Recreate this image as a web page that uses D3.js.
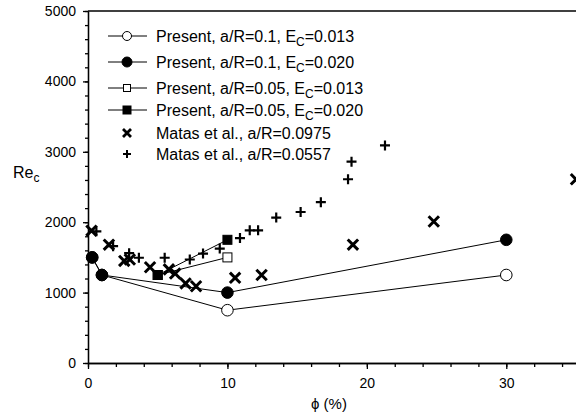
<!DOCTYPE html>
<html>
<head>
<meta charset="utf-8">
<script src="https://cdn.jsdelivr.net/npm/d3@7"></script>
<style>
  body { margin: 0; background: #fff; }
  svg { display: block; font-family: "Liberation Sans", Arial, sans-serif; }
</style>
</head>
<body>
<div id="chart"></div>
<script>
// data: [phi (%), Re_c]
const presentOpenCircle = [[0.3, 1500], [1, 1250], [10, 750], [30, 1250]];   // a/R=0.1, Ec=0.013
const presentFilledCircle = [[0.3, 1500], [1, 1250], [10, 1000], [30, 1750]]; // a/R=0.1, Ec=0.020
const presentOpenSquare = [[5, 1250], [10, 1500]];                            // a/R=0.05, Ec=0.013
const presentFilledSquare = [[5, 1250], [10, 1750]];                          // a/R=0.05, Ec=0.020
const matasCross = [[0.25, 1880], [1.5, 1680], [2.6, 1450], [3.0, 1470], [4.45, 1360],
  [5.8, 1330], [6.25, 1270], [7.0, 1130], [7.75, 1090], [10.55, 1210], [12.45, 1250],
  [19.0, 1680], [24.8, 2010], [35.0, 2610]];
const matasPlus = [[0.6, 1870], [1.8, 1660], [2.95, 1560], [3.65, 1495], [5.5, 1495],
  [7.3, 1470], [8.25, 1555], [9.45, 1625], [10.9, 1775], [11.6, 1885],
  [12.2, 1885], [13.5, 2065], [15.25, 2145], [16.7, 2285], [18.65, 2610], [18.9, 2860],
  [21.3, 3090]];
const yTicks = [0, 1000, 2000, 3000, 4000, 5000];
const xTicks = [0, 10, 20, 30];

const width = 576, height = 416;
const x = d3.scaleLinear([0, 35], [88, 576]);
const y = d3.scaleLinear([0, 5000], [363, 11]);

const svg = d3.select("#chart").append("svg")
    .attr("width", width)
    .attr("height", height)
    .attr("viewBox", [0, 0, width, height]);

// axes
const yAxis = svg.append("g").attr("transform", `translate(${x(0)},0)`);
yAxis.call(d3.axisLeft(y).tickValues(d3.range(0, 5001, 200)).tickSize(3).tickFormat("").tickSizeOuter(0));
yAxis.call(g => g.append("g").call(d3.axisLeft(y).tickValues(yTicks).tickSize(5)
    .tickFormat(d3.format("d")).tickSizeOuter(0).tickPadding(7)));

const xAxis = svg.append("g").attr("transform", `translate(0,${y(0)})`);
xAxis.call(d3.axisBottom(x).tickValues(d3.range(0, 35.1, 2)).tickSize(4).tickFormat("").tickSizeOuter(0));
xAxis.call(g => g.append("g").call(d3.axisBottom(x).tickValues(xTicks).tickSize(6)
    .tickFormat(d3.format("d")).tickSizeOuter(0).tickPadding(9)));

svg.selectAll(".tick text").attr("font-size", 14).attr("fill", "#000").attr("font-family", "Liberation Sans, Arial, sans-serif");
svg.selectAll(".domain, .tick line").attr("stroke", "#000").attr("stroke-width", 1.3);

svg.append("line")
    .attr("x1", x(0)).attr("x2", x(35))
    .attr("y1", y(5000)).attr("y2", y(5000))
    .attr("stroke", "#000").attr("stroke-width", 1.3);

// axis titles
const rel = svg.append("text").attr("x", 13).attr("y", 178).attr("font-size", 16);
rel.append("tspan").text("Re");
rel.append("tspan").attr("dy", 4).attr("font-size", 12).text("c");

svg.append("text")
    .attr("x", 329).attr("y", 409)
    .attr("text-anchor", "middle")
    .attr("font-size", 15)
    .text("ϕ (%)");

// marker drawing helpers
function drawMarker(g, type, cx, cy) {
  if (type === "openCircle" || type === "filledCircle") {
    g.append("circle").attr("cx", cx).attr("cy", cy).attr("r", 5.8)
      .attr("fill", type === "openCircle" ? "#fff" : "#000")
      .attr("stroke", "#000").attr("stroke-width", 1);
  } else if (type === "openSquare" || type === "filledSquare") {
    g.append("rect").attr("x", cx - 4.5).attr("y", cy - 4.5).attr("width", 9).attr("height", 9)
      .attr("fill", type === "openSquare" ? "#fff" : "#000")
      .attr("stroke", "#000").attr("stroke-width", 1);
  } else if (type === "cross") {
    const s = 5.2;
    g.append("path").attr("d", `M${cx - s},${cy - s}L${cx + s},${cy + s}M${cx - s},${cy + s}L${cx + s},${cy - s}`)
      .attr("stroke", "#000").attr("stroke-width", 3).attr("fill", "none");
  } else if (type === "plus") {
    const s = 5;
    g.append("path").attr("d", `M${cx - s},${cy}L${cx + s},${cy}M${cx},${cy - s}L${cx},${cy + s}`)
      .attr("stroke", "#000").attr("stroke-width", 2.2).attr("fill", "none");
  }
}

const line = d3.line().x(d => x(d[0])).y(d => y(d[1]));

const lineSeries = [
  {data: presentOpenCircle, type: "openCircle"},
  {data: presentOpenSquare, type: "openSquare"},
  {data: presentFilledCircle, type: "filledCircle"},
  {data: presentFilledSquare, type: "filledSquare"}
];

const plot = svg.append("g");
lineSeries.forEach(s => {
  plot.append("path").attr("d", line(s.data)).attr("fill", "none").attr("stroke", "#000").attr("stroke-width", 1);
});
lineSeries.forEach(s => {
  s.data.forEach(d => drawMarker(plot, s.type, x(d[0]), y(d[1])));
});
matasCross.forEach(d => drawMarker(plot, "cross", x(d[0]), y(d[1])));
matasPlus.forEach(d => drawMarker(plot, "plus", x(d[0]), y(d[1])));

// legend
const legendItems = [
  {type: "openCircle", line: true, label: ["Present, a/R=0.1, E", "C", "=0.013"]},
  {type: "filledCircle", line: true, label: ["Present, a/R=0.1, E", "C", "=0.020"]},
  {type: "openSquare", line: true, label: ["Present, a/R=0.05, E", "C", "=0.013"]},
  {type: "filledSquare", line: true, label: ["Present, a/R=0.05, E", "C", "=0.020"]},
  {type: "cross", line: false, label: ["Matas et al., a/R=0.0975"]},
  {type: "plus", line: false, label: ["Matas et al., a/R=0.0557"]}
];
const legendY = [36, 62, 88, 110, 133, 154];
const legend = svg.append("g");
legendItems.forEach((it, i) => {
  const ly = legendY[i];
  if (it.line) {
    legend.append("line").attr("x1", 108).attr("x2", 147).attr("y1", ly).attr("y2", ly)
      .attr("stroke", "#000").attr("stroke-width", 1);
  }
  const g = legend.append("g");
  if (it.type === "openCircle") {
    g.append("circle").attr("cx", 127).attr("cy", ly).attr("r", 4.5).attr("fill", "#fff").attr("stroke", "#000");
  } else if (it.type === "filledCircle") {
    g.append("circle").attr("cx", 127).attr("cy", ly).attr("r", 5).attr("fill", "#000").attr("stroke", "#000");
  } else if (it.type === "openSquare") {
    g.append("rect").attr("x", 123.5).attr("y", ly - 3.5).attr("width", 7).attr("height", 7).attr("fill", "#fff").attr("stroke", "#000");
  } else if (it.type === "filledSquare") {
    g.append("rect").attr("x", 123).attr("y", ly - 4).attr("width", 8).attr("height", 8).attr("fill", "#000").attr("stroke", "#000");
  } else if (it.type === "cross") {
    g.append("path").attr("d", `M123,${ly - 4}L131,${ly + 4}M123,${ly + 4}L131,${ly - 4}`)
      .attr("stroke", "#000").attr("stroke-width", 2.8);
  } else if (it.type === "plus") {
    g.append("path").attr("d", `M123,${ly}L131,${ly}M127,${ly - 4}L127,${ly + 4}`)
      .attr("stroke", "#000").attr("stroke-width", 2);
  }
  const t = legend.append("text").attr("x", 156).attr("y", ly + 5.5).attr("font-size", 16);
  t.append("tspan").text(it.label[0]);
  if (it.label.length > 1) {
    t.append("tspan").attr("dy", 4).attr("font-size", 12).text(it.label[1]);
    t.append("tspan").attr("dy", -4).text(it.label[2]);
  }
});
</script>
</body>
</html>
